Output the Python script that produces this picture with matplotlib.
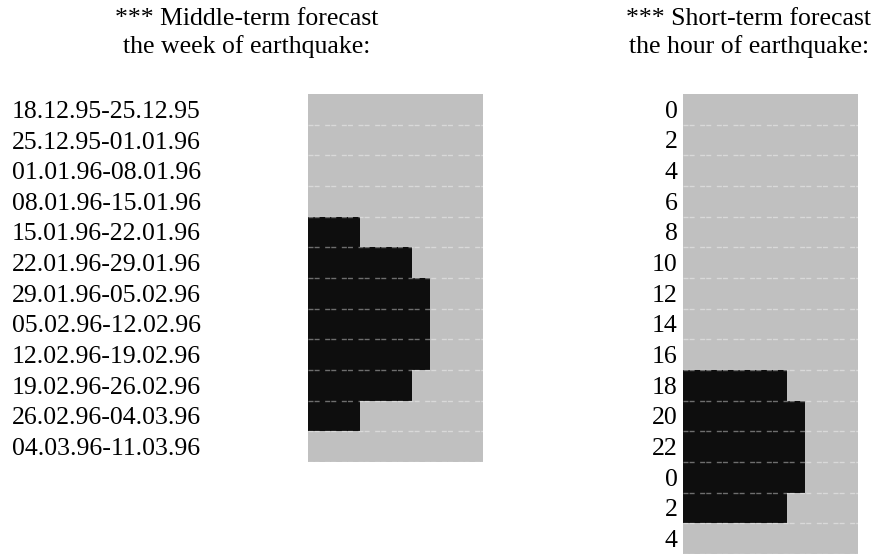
import matplotlib
matplotlib.use('Agg')
import matplotlib.pyplot as plt

# middle-term forecast, by week
weeks = ['18.12.95-25.12.95', '25.12.95-01.01.96', '01.01.96-08.01.96',
         '08.01.96-15.01.96', '15.01.96-22.01.96', '22.01.96-29.01.96',
         '29.01.96-05.02.96', '05.02.96-12.02.96', '12.02.96-19.02.96',
         '19.02.96-26.02.96', '26.02.96-04.03.96', '04.03.96-11.03.96']
week_vals = [0, 0, 0, 0, 3, 6, 7, 7, 7, 6, 3, 0]

# short-term forecast, by hour
hours = ['0', '2', '4', '6', '8', '10', '12', '14', '16', '18', '20', '22', '0', '2', '4']
hour_vals = [0, 0, 0, 0, 0, 0, 0, 0, 0, 6, 7, 7, 7, 6, 0]

plt.rcParams['font.family'] = ['Liberation Serif', 'DejaVu Serif']
plt.rcParams['font.size'] = 18.5
plt.rcParams['lines.scale_dashes'] = False

W, H = 877, 554
fig = plt.figure(figsize=(W / 100, H / 100), dpi=100)

BG = '#c0c0c0'
BAR = '#0e0e0e'


def panel(rect, labels, vals):
    ax = fig.add_axes(rect)
    n = len(labels)
    ax.set_facecolor(BG)
    ax.barh(range(n), vals, height=1.0, color=BAR, linewidth=0)
    for k in range(n):
        ax.axhline(k + 0.5, color='white', alpha=0.4, lw=1,
                   linestyle=(0, (3.6, 0.8, 3.6, 4.0)))
    ax.set_xlim(0, 10.08)
    ax.set_ylim(n - 0.5, -0.5)
    ax.set_xticks([])
    ax.set_yticks(range(n))
    ax.set_yticklabels(labels)
    for s in ax.spines.values():
        s.set_visible(False)
    return ax


# left panel: x 308-483, y 94-462
ax1 = panel([308 / W, (H - 462) / H, 175 / W, 368 / H], weeks, week_vals)
ax1.tick_params(axis='y', length=0, pad=(308 - 12) * 0.72)
for t in ax1.get_yticklabels():
    t.set_horizontalalignment('left')

# right panel: x 683-858, y 94-554
ax2 = panel([683 / W, 0, 175 / W, 460 / H], hours, hour_vals)
ax2.tick_params(axis='y', length=0, pad=4)

fig.text(247 / W, 1 - 25 / H, '*** Middle-term forecast', ha='center', va='baseline')
fig.text(247 / W, 1 - 53 / H, 'the week of earthquake:', ha='center', va='baseline')
fig.text(749 / W, 1 - 25 / H, '*** Short-term forecast', ha='center', va='baseline')
fig.text(749 / W, 1 - 53 / H, 'the hour of earthquake:', ha='center', va='baseline')

fig.savefig('out.png', dpi=100)
